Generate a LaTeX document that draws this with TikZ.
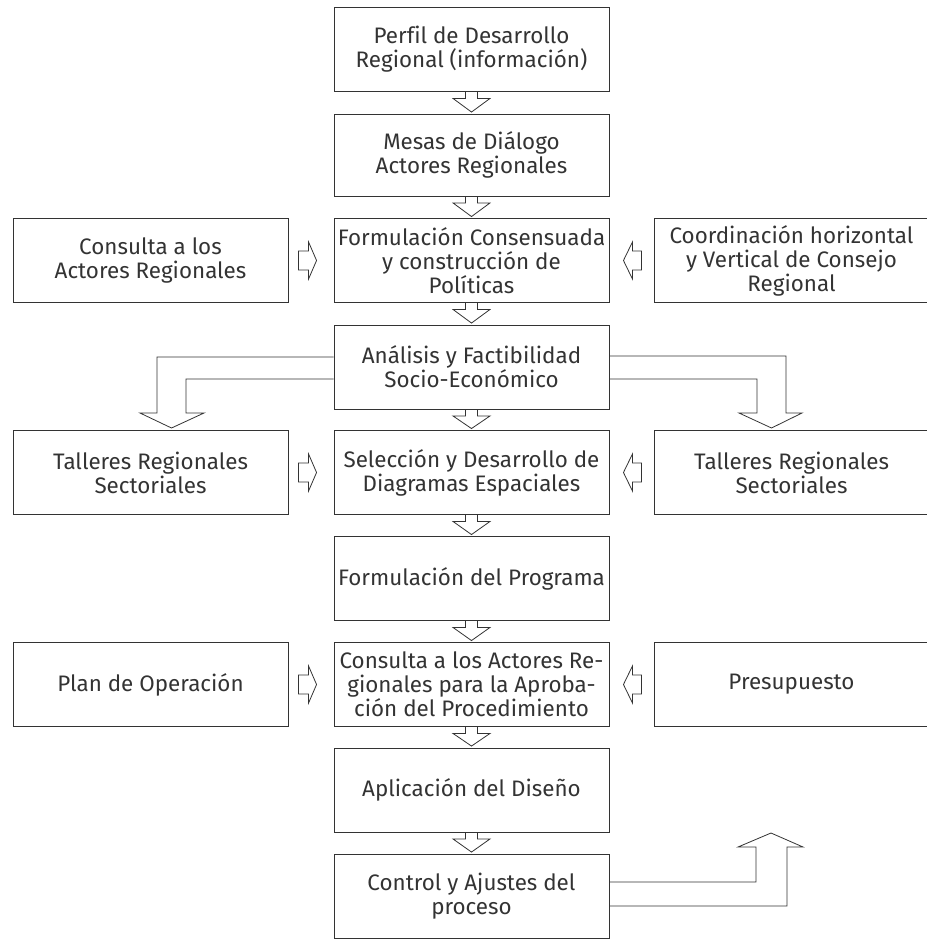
\documentclass[tikz,border=0pt]{standalone}
\usepackage{fontspec}
\setmainfont[Ligatures=NoCommon]{Fira Sans}
\usetikzlibrary{calc}
\tikzset{
  box/.style={draw=black!80, line width=0.9pt, minimum width=275pt, minimum height=84pt,
    align=center, inner sep=2pt, font=\fontsize{22.4}{24}\selectfont, text=black!80},
  arr/.style={draw=black!80, line width=0.8pt, line join=miter},
}
\newcommand\dnarrow[2]{%
  \draw[arr] ($(#1.south)+(-6,0)$) -- ($(#1.south)+(-6,6.5)$) -- ($(#1.south)+(-18.5,6.5)$)
    -- ($(#2.north)+(0,-1.5)$) -- ($(#1.south)+(18.5,6.5)$) -- ($(#1.south)+(6,6.5)$) -- ($(#1.south)+(6,0)$);}
\newcommand\rtarrow[1]{%
  \draw[arr] ($(#1.west)+(-35,-9.5)$) -- ($(#1.west)+(-25,-9.5)$) -- ($(#1.west)+(-25,-18.5)$)
    -- ($(#1.west)+(-17,0)$) -- ($(#1.west)+(-25,18.5)$) -- ($(#1.west)+(-25,9.5)$) -- ($(#1.west)+(-35,9.5)$) -- cycle;}
\newcommand\ltarrow[1]{%
  \draw[arr] ($(#1.east)+(32,-9.5)$) -- ($(#1.east)+(23,-9.5)$) -- ($(#1.east)+(23,-18.5)$)
    -- ($(#1.east)+(14,0)$) -- ($(#1.east)+(23,18.5)$) -- ($(#1.east)+(23,9.5)$) -- ($(#1.east)+(32,9.5)$) -- cycle;}
\begin{document}
\begin{tikzpicture}[x=1pt,y=-1pt]
\useasboundingbox (0,0) rectangle (926,939);
% central column
\node[box] (b1) at (471.5,49.5) {Perfil de Desarrollo\\Regional (información)};
\node[box, minimum height=82pt] (b2) at (471.5,155) {Mesas de Diálogo\\Actores Regionales};
\node[box] (b3) at (471.5,260.5) {Formulación Consensuada\\y construcción de\\Políticas};
\node[box] (b4) at (471.5,367) {Análisis y Factibilidad\\Socio-Económico};
\node[box] (b5) at (471.5,472.5) {Selección y Desarrollo de\\Diagramas Espaciales};
\node[box] (b6) at (471.5,578.5) {Formulación del Programa};
\node[box] (b7) at (471.5,684.5) {Consulta a los Actores Re-\\gionales para la Aproba-\\ción del Procedimiento};
\node[box] (b8) at (471.5,790) {Aplicación del Diseño};
\node[box] (b9) at (471.5,896) {Control y Ajustes del\\proceso};
% side boxes
\node[box] (l3) at (150.5,260.5) {Consulta a los\\Actores Regionales};
\node[box] (r3) at (791.5,260.5) {Coordinación horizontal\\y Vertical de Consejo\\Regional};
\node[box] (l5) at (150.5,472.5) {Talleres Regionales\\Sectoriales};
\node[box] (r5) at (791.5,472.5) {Talleres Regionales\\Sectoriales};
\node[box] (l7) at (150.5,684.5) {Plan de Operación};
\node[box] (r7) at (791.5,684.5) {Presupuesto};
% down arrows
\dnarrow{b1}{b2}
\dnarrow{b2}{b3}
\dnarrow{b3}{b4}
\dnarrow{b4}{b5}
\dnarrow{b5}{b6}
\dnarrow{b6}{b7}
\dnarrow{b7}{b8}
\dnarrow{b8}{b9}
% side arrows
\rtarrow{b3}
\ltarrow{b3}
\rtarrow{b5}
\ltarrow{b5}
\rtarrow{b7}
\ltarrow{b7}
% big bent arrows
\draw[arr] ($(b4.west)+(0,-10)$) -- (157,357) -- (157,413) -- (140,413) -- (171.5,428)
  -- (204,413) -- (186,413) -- (186,379) -- ($(b4.west)+(0,12)$);
\draw[arr] ($(b4.east)+(0,-11)$) -- (786,356) -- (786,413) -- (802,413) -- (771.5,428)
  -- (739,413) -- (757,413) -- (757,379) -- ($(b4.east)+(0,12)$);
\draw[arr] ($(b9.east)+(0,-14)$) -- (756,882) -- (756,847) -- (738,847) -- (771,833)
  -- (803,847) -- (787,847) -- (787,906) -- ($(b9.east)+(0,10)$);
\end{tikzpicture}
\end{document}
